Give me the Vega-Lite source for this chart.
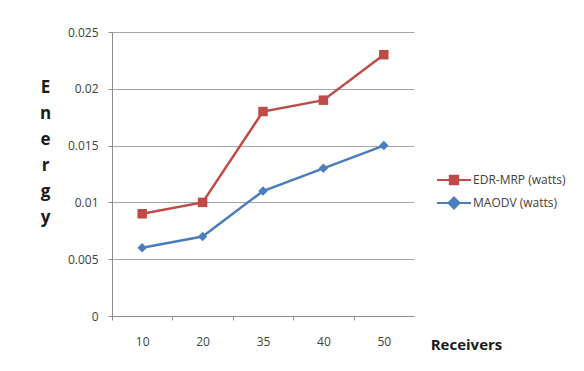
{
  "$schema": "https://vega.github.io/schema/vega-lite/v6.json",
  "autosize": "none",
  "width": 302,
  "height": 284,
  "padding": {"left": 112, "top": 32, "right": 170, "bottom": 55},
  "background": "white",
  "config": {
    "font": "Open Sans",
    "view": {"stroke": null},
    "axis": {"labelFont": "Open Sans", "labelFontSize": 12, "labelColor": "#404040", "domainColor": "#8c8c8c", "tickColor": "#8c8c8c", "gridColor": "#a6a6a6", "tickSize": 4}
  },
  "data": {
    "values": [
      {"series": "EDR-MRP  (watts)", "receivers": "10", "energy": 0.009},
      {"series": "EDR-MRP  (watts)", "receivers": "20", "energy": 0.010},
      {"series": "EDR-MRP  (watts)", "receivers": "35", "energy": 0.018},
      {"series": "EDR-MRP  (watts)", "receivers": "40", "energy": 0.019},
      {"series": "EDR-MRP  (watts)", "receivers": "50", "energy": 0.023},
      {"series": "MAODV (watts)", "receivers": "10", "energy": 0.006},
      {"series": "MAODV (watts)", "receivers": "20", "energy": 0.007},
      {"series": "MAODV (watts)", "receivers": "35", "energy": 0.011},
      {"series": "MAODV (watts)", "receivers": "40", "energy": 0.013},
      {"series": "MAODV (watts)", "receivers": "50", "energy": 0.015}
    ]
  },
  "encoding": {
    "x": {
      "field": "receivers", "type": "ordinal", "sort": ["10", "20", "35", "40", "50"],
      "scale": {"type": "point", "padding": 0.5},
      "axis": {
        "title": "Receivers", "titleFont": "Open Sans", "titleFontSize": 15, "titleFontWeight": "bold", "titleColor": "#1a1a1a",
        "titleX": 354, "titleY": 28, "titleAlign": "center", "titleBaseline": "middle",
        "labelAngle": 0, "tickOffset": -30.2, "labelOffset": 30.2, "labelPadding": 16, "grid": false
      }
    },
    "y": {
      "field": "energy", "type": "quantitative",
      "scale": {"domain": [0, 0.025]},
      "axis": {
        "values": [0, 0.005, 0.01, 0.015, 0.02, 0.025], "format": "~g", "grid": true, "labelPadding": 10,
        "title": ["E", "n", "e", "r", "g", "y"], "titleAngle": 0, "titleFont": "Open Sans", "titleFontSize": 17, "titleFontWeight": "bold", "titleColor": "#1a1a1a",
        "titleX": -67, "titleY": 47, "titleAlign": "center", "titleBaseline": "top", "titleLineHeight": 26
      }
    },
    "color": {
      "field": "series", "type": "nominal",
      "scale": {"domain": ["EDR-MRP  (watts)", "MAODV (watts)"], "range": ["#BE4B48", "#4A7EBB"]},
      "legend": {
        "title": null, "orient": "none", "legendX": 331, "legendY": 137,
        "labelFont": "Open Sans", "labelFontSize": 12, "labelColor": "#404040", "rowPadding": 3,
        "symbolSize": 400, "labelOffset": 8,
        "encode": {
          "symbols": {
            "update": {
              "shape": {"signal": "datum.value === 'MAODV (watts)' ? 'M-1.7,0H1.7M0,-0.55L0.55,0L0,0.55L-0.55,0Z' : 'M-1.7,0H1.7M-0.42,-0.42H0.42V0.42H-0.42Z'"},
              "stroke": {"scale": "color", "field": "value"},
              "fill": {"scale": "color", "field": "value"},
              "strokeWidth": {"value": 2},
              "opacity": {"value": 1}
            }
          }
        }
      }
    }
  },
  "layer": [
    {"mark": {"type": "line", "strokeWidth": 2.5}},
    {
      "mark": {"type": "point", "filled": true, "opacity": 1},
      "encoding": {
        "shape": {"condition": {"test": "datum.series === 'MAODV (watts)'", "value": "diamond"}, "value": "square"},
        "size": {"value": 90}
      }
    }
  ]
}
